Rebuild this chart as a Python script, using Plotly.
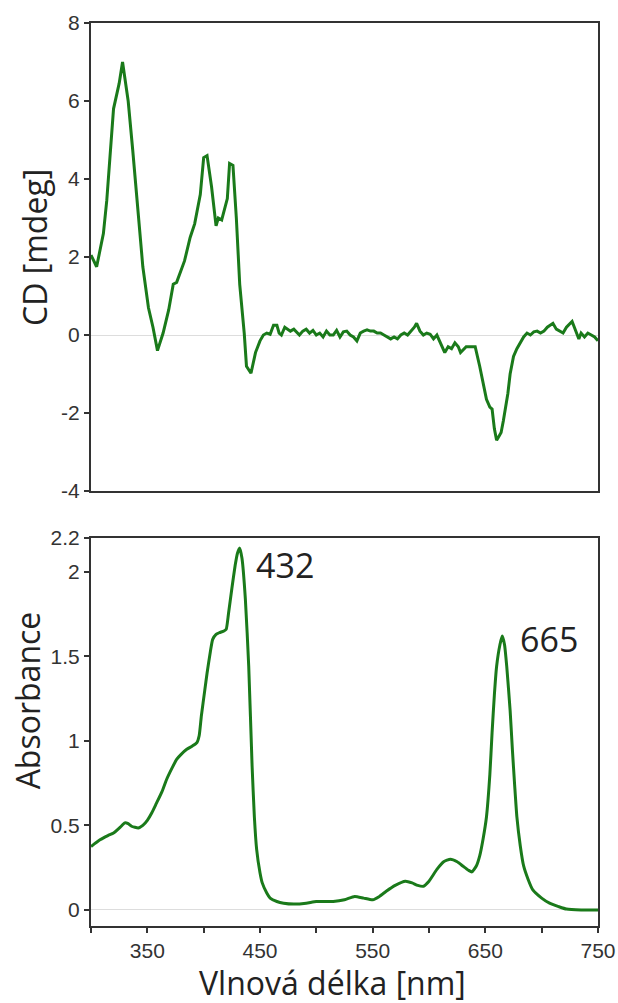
import plotly.graph_objects as go

# ---- CD spectrum (top) ----
cd_wl = [300, 305, 311, 314, 320, 325, 328, 333, 337, 342, 346, 351, 355, 359, 364, 369, 373, 376, 379, 383,
         388, 392, 397, 400, 403, 407, 411, 413, 416, 421, 423, 426, 429, 432, 436, 438, 442, 446, 450, 453,
         456, 459, 462, 465, 467, 469, 472, 474, 477, 480, 483, 485, 488, 491, 494, 497, 500, 503, 506, 509,
         512, 515, 518, 521, 524, 527, 530, 533, 536, 539, 542, 545, 548, 551, 554, 557, 560, 563, 566, 569,
         572, 575, 578, 581, 584, 587, 589, 592, 595, 598, 601, 604, 607, 610, 612, 614, 617, 620, 623, 626,
         628, 630, 633, 636, 641, 645, 648, 651, 654, 656, 658, 660, 662, 664, 666, 668, 670, 672, 675, 678,
         681, 684, 687, 690, 693, 696, 699, 702, 705, 708, 710, 713, 716, 719, 722, 725, 727, 729, 731, 733,
         735, 738, 741, 744, 747, 750]
cd_val = [2.05, 1.75, 2.6, 3.45, 5.8, 6.45, 7.0, 6.0, 4.75, 3.0, 1.75, 0.7, 0.2, -0.4, 0.05, 0.65, 1.3, 1.35, 1.6, 1.9,
          2.5, 2.85, 3.6, 4.55, 4.6, 3.8, 2.8, 3.0, 2.95, 3.5, 4.4, 4.35, 3.0, 1.3, 0.05, -0.8, -0.98, -0.45, -0.15, 0.0,
          0.05, 0.02, 0.25, 0.25, 0.05, 0.0, 0.2, 0.15, 0.1, 0.15, 0.05, 0.0, 0.1, 0.15, 0.05, 0.12, 0.0, 0.05, -0.05, 0.1,
          0.0, 0.0, 0.12, -0.05, 0.08, 0.1, 0.0, -0.05, -0.15, 0.05, 0.1, 0.13, 0.1, 0.1, 0.05, 0.05, 0.0, -0.05, -0.1, -0.05,
          -0.1, 0.0, 0.05, 0.0, 0.1, 0.2, 0.3, 0.1, 0.0, 0.05, 0.02, -0.1, 0.0, -0.2, -0.35, -0.45, -0.3, -0.35, -0.2, -0.3,
          -0.45, -0.4, -0.3, -0.3, -0.3, -0.8, -1.2, -1.65, -1.85, -1.9, -2.4, -2.7, -2.6, -2.5, -2.2, -1.9, -1.5, -1.0, -0.55, -0.35,
          -0.2, -0.05, 0.05, 0.0, 0.08, 0.1, 0.05, 0.1, 0.2, 0.25, 0.3, 0.15, 0.1, 0.05, 0.2, 0.3, 0.35, 0.2, 0.05, -0.1,
          0.05, -0.05, 0.05, 0.0, -0.05, -0.15]

# ---- Absorbance spectrum (bottom) ----
abs_wl = [300, 308, 315, 320, 326, 330, 333, 336, 342, 346, 350, 354, 358, 363, 367, 372, 376, 380, 385, 390,
          394, 396, 398, 401, 403, 406, 408, 411, 414, 418, 420, 422, 425, 428, 430, 432, 434, 437, 440, 443,
          445, 447, 450, 452, 456, 459, 465, 471, 480, 491, 500, 515, 525, 534, 542, 550, 556, 562, 570, 579,
          585, 590, 595, 600, 607, 613, 619, 625, 630, 635, 638, 642, 645, 648, 651, 654, 656, 658, 660, 663,
          665, 667, 669, 672, 674, 676, 678, 681, 684, 688, 692, 700, 707, 715, 722, 735, 750]
abs_val = [0.375, 0.415, 0.44, 0.455, 0.49, 0.515, 0.51, 0.495, 0.485, 0.5, 0.53, 0.575, 0.63, 0.70, 0.77, 0.84, 0.89, 0.92, 0.95, 0.97,
           0.99, 1.03, 1.15, 1.30, 1.40, 1.53, 1.60, 1.63, 1.64, 1.65, 1.66, 1.75, 1.90, 2.04, 2.11, 2.14, 2.08, 1.84, 1.44, 0.85,
           0.55, 0.36, 0.22, 0.16, 0.10, 0.07, 0.05, 0.04, 0.035, 0.04, 0.05, 0.05, 0.06, 0.08, 0.07, 0.06, 0.08, 0.11, 0.145, 0.17,
           0.16, 0.145, 0.14, 0.17, 0.24, 0.285, 0.30, 0.285, 0.26, 0.235, 0.225, 0.26, 0.32, 0.42, 0.55, 0.80, 1.05, 1.27, 1.44, 1.57,
           1.62, 1.57, 1.44, 1.18, 0.95, 0.74, 0.55, 0.38, 0.26, 0.18, 0.12, 0.07, 0.04, 0.02, 0.005, 0.0, 0.0]

x_ticks = [300, 350, 400, 450, 500, 550, 600, 650, 700, 750]
x_ticktext = ["", "350", "", "450", "", "550", "", "650", "", "750"]
cd_ticks = [-4, -2, 0, 2, 4, 6, 8]
cd_ticktext = ["-4", "-2", "0", "2", "4", "6", "8"]
abs_ticks = [0, 0.5, 1, 1.5, 2, 2.2]
abs_ticktext = ["0", "0.5", "1", "1.5", "2", "2.2"]

peak_labels = ["432", "665"]
peak_x = [445, 679]
peak_y = [2.04, 1.60]

line_color = "#1a7a1a"
axis_color = "#333333"
text_color = "#222222"
tick_font = dict(family="Liberation Sans, Arial", size=21, color="#333333")
title_font = dict(family="Open Sans, Noto Sans", size=32, color=text_color)

fig = go.Figure()
fig.add_trace(go.Scatter(x=cd_wl, y=cd_val, mode="lines", xaxis="x", yaxis="y",
                         line=dict(color=line_color, width=3), showlegend=False))
fig.add_trace(go.Scatter(x=abs_wl, y=abs_val, mode="lines", xaxis="x2", yaxis="y2",
                         line=dict(color=line_color, width=3, shape="spline", smoothing=0.5), showlegend=False))

common_axis = dict(showline=True, mirror=True, linecolor=axis_color, linewidth=2,
                   showgrid=False, zeroline=False, tickfont=tick_font, automargin=False,
                   ticks="outside", ticklen=5, tickwidth=1.5, tickcolor=axis_color)

fig.update_layout(
    width=618, height=1003,
    margin=dict(l=91, r=20, t=23, b=77),
    paper_bgcolor="white", plot_bgcolor="white",
    xaxis=dict(common_axis, domain=[0, 1], anchor="y", range=[300, 750],
               showticklabels=False, ticks=""),
    yaxis=dict(common_axis, domain=[0.4817, 1], anchor="x", range=[-4, 8],
               tickvals=cd_ticks, ticktext=cd_ticktext,
               zeroline=True, zerolinecolor="#dddddd", zerolinewidth=1),
    xaxis2=dict(common_axis, domain=[0, 1], anchor="y2", range=[300, 750],
                tickvals=x_ticks, ticktext=x_ticktext),
    yaxis2=dict(common_axis, domain=[0, 0.4297], anchor="x2", range=[-0.095, 2.2],
                tickvals=abs_ticks, ticktext=abs_ticktext,
                zeroline=True, zerolinecolor="#dddddd", zerolinewidth=1),
)

annotations = []
for lab, px, py in zip(peak_labels, peak_x, peak_y):
    annotations.append(dict(x=px, y=py, xref="x2", yref="y2", text=lab, showarrow=False,
                            xanchor="left", yanchor="middle",
                            font=dict(family="Open Sans, Noto Sans", size=34, color=text_color)))
annotations.append(dict(x=-0.1105, y=0.752, xref="paper", yref="paper", text="CD [mdeg]",
                        textangle=-90, showarrow=False, xanchor="center", yanchor="middle", font=title_font))
annotations.append(dict(x=-0.126, y=0.25, xref="paper", yref="paper", text="Absorbance",
                        textangle=-90, showarrow=False, xanchor="center", yanchor="middle", font=title_font))
annotations.append(dict(x=0.477, y=-0.063, xref="paper", yref="paper", text="Vlnová délka [nm]",
                        showarrow=False, xanchor="center", yanchor="middle", font=title_font))
fig.update_layout(annotations=annotations)

fig.write_html("out.html")
